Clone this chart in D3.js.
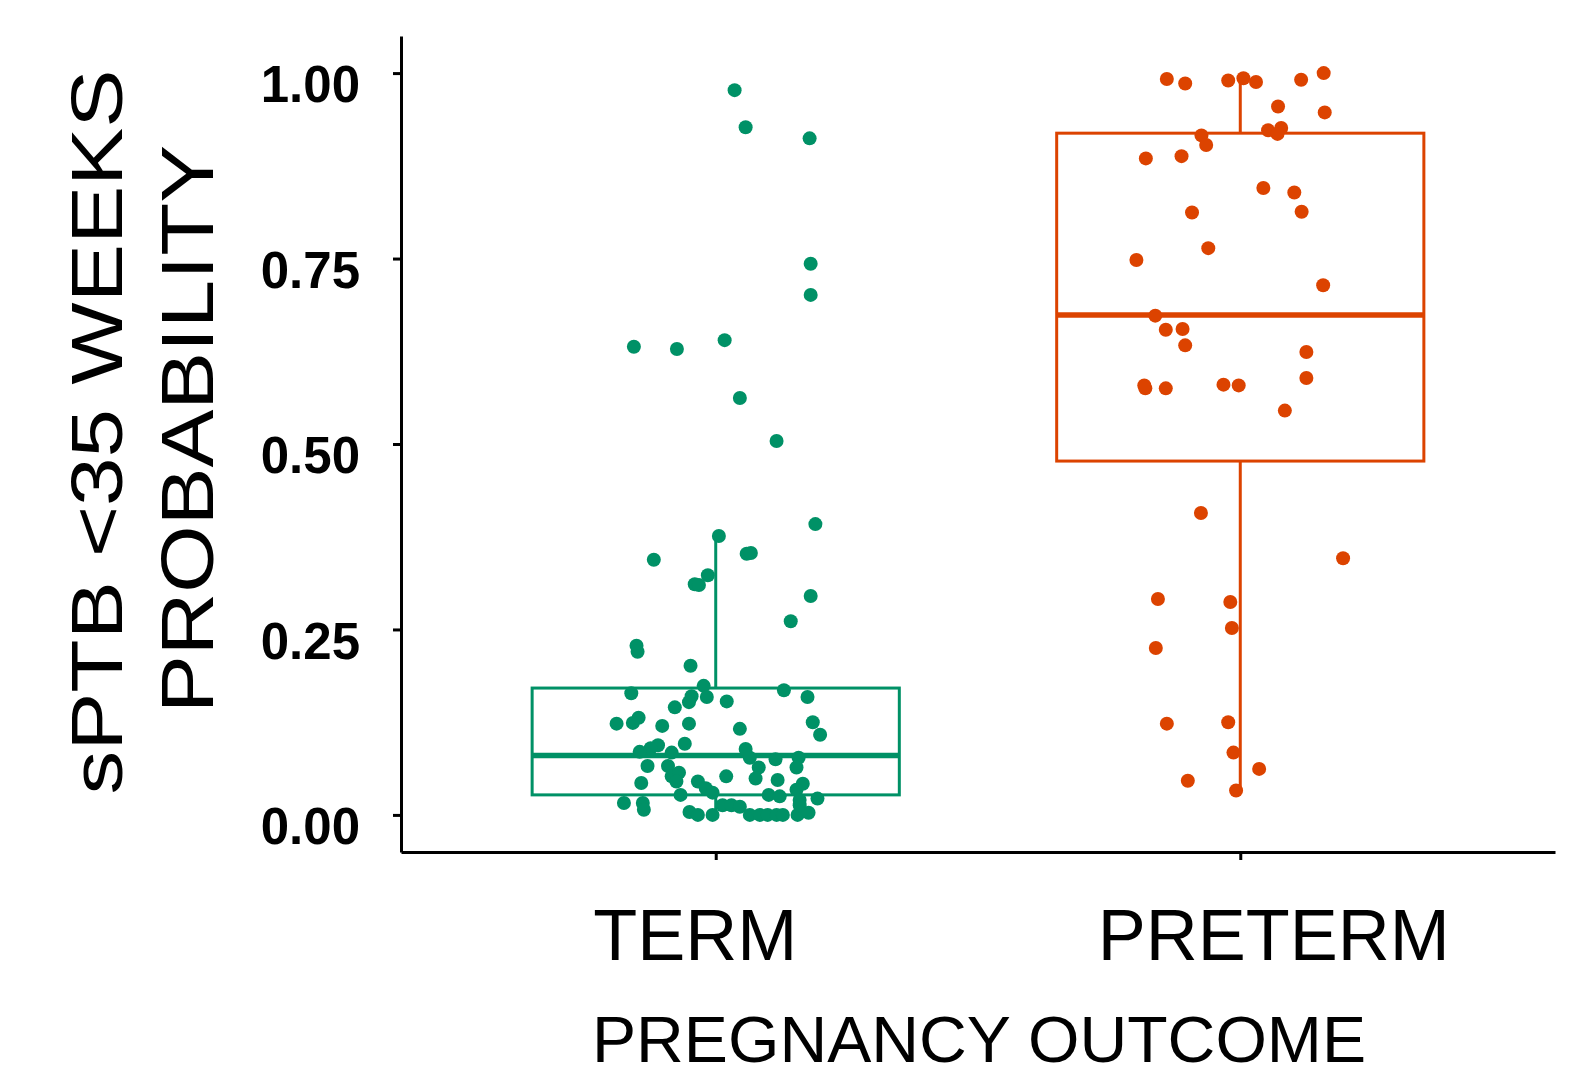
<!DOCTYPE html>
<html>
<head>
<meta charset="utf-8">
<script src="https://cdn.jsdelivr.net/npm/d3@7"></script>
<style>
    body { margin: 0; background: #fff; }
    text { font-family: "Liberation Sans", Arial, sans-serif; }
</style>
</head>
<body>
<svg id="chart"></svg>
<script>
// categories and tick values
var categories = ["TERM", "PRETERM"];
var yTicks = [0, 0.25, 0.5, 0.75, 1];
var colors = ["#009166", "#dc4300"];

// box stats (lower whisker, q1, median, q3, upper whisker)
var boxLow = [0.000, 0.032];
var boxQ1 = [0.027, 0.477];
var boxMedian = [0.080, 0.674];
var boxQ3 = [0.171, 0.919];
var boxHigh = [0.376, 0.993];

// jittered points: horizontal jitter (category units) and probability
var termJitter = [0.036, 0.057, 0.179, 0.181, 0.181, -0.156, -0.074, 0.017, 0.046, 0.116, 0.190, 0.006, 0.059, 0.067, -0.118, -0.040, -0.032, -0.015, 0.181, 0.143,
    -0.151, -0.149, -0.048, -0.023, -0.017, -0.046, -0.051, -0.161, -0.078, 0.021, 0.130, 0.175,
    -0.189, -0.158, -0.147, -0.102, -0.051, 0.046, 0.185, 0.199,
    -0.059, -0.110, -0.124, -0.145, -0.084, 0.057, 0.065, 0.114, 0.158,
    -0.130, -0.091, 0.082, 0.154,
    -0.084, -0.070, 0.020, 0.076, 0.118, -0.142, -0.075, -0.034, -0.019, -0.006, -0.067,
    0.166, 0.154, 0.101, 0.122, 0.194, 0.160,
    -0.175, -0.139, -0.137, -0.050, -0.034, -0.006, 0.013, 0.030, 0.046,
    0.065, 0.084, 0.099, 0.116, 0.128, 0.156, 0.177, 0.160];
var termProb = [0.977, 0.927, 0.912, 0.743, 0.701, 0.631, 0.628, 0.640, 0.562, 0.504, 0.392, 0.376, 0.352, 0.353, 0.344, 0.311, 0.310, 0.323, 0.295, 0.261,
    0.228, 0.220, 0.201, 0.174, 0.159, 0.160, 0.152, 0.164, 0.145, 0.153, 0.168, 0.159,
    0.123, 0.124, 0.131, 0.120, 0.123, 0.116, 0.125, 0.108,
    0.096, 0.094, 0.090, 0.085, 0.084, 0.089, 0.077, 0.075, 0.077,
    0.066, 0.066, 0.064, 0.064,
    0.052, 0.057, 0.052, 0.049, 0.047, 0.043, 0.045, 0.045, 0.036, 0.030, 0.027,
    0.042, 0.034, 0.027, 0.025, 0.022, 0.020,
    0.016, 0.016, 0.007, 0.004, 0.000, 0.000, 0.013, 0.013, 0.011,
    0.000, 0.000, 0.000, 0.000, 0.000, 0.000, 0.003, 0.013];

var pretermJitter = [-0.140, -0.105, -0.023, 0.006, 0.030, 0.116, 0.159, 0.072, 0.161,
    -0.074, -0.065, 0.053, 0.078, 0.071, -0.180, -0.112,
    0.044, 0.103, 0.117, -0.092, -0.061, -0.198, 0.158,
    -0.162, -0.142, -0.110, -0.105, 0.126, 0.126, -0.181, -0.183, -0.142, -0.032, -0.003, 0.085,
    -0.075, 0.196, -0.157, -0.019, -0.016, -0.161, -0.140, -0.023, -0.013, 0.036, -0.100, -0.008];
var pretermProb = [0.992, 0.986, 0.990, 0.993, 0.988, 0.991, 1.000, 0.955, 0.947,
    0.916, 0.903, 0.923, 0.926, 0.918, 0.885, 0.888,
    0.845, 0.839, 0.813, 0.812, 0.764, 0.748, 0.714,
    0.673, 0.654, 0.655, 0.633, 0.624, 0.589, 0.575, 0.579, 0.575, 0.580, 0.579, 0.545,
    0.407, 0.346, 0.291, 0.287, 0.252, 0.225, 0.123, 0.125, 0.084, 0.062, 0.046, 0.033];

var width = 1569;
var height = 1078;

var svg = d3.select("#chart")
    .attr("width", width)
    .attr("height", height);

var x = d3.scaleLinear().domain([0.4, 2.6]).range([401, 1555]);
var y = d3.scaleLinear().domain([-0.05, 1.05]).range([852, 36]);
var boxWidth = 0.7;

// axes
var yAxis = svg.append("g")
    .attr("transform", "translate(401,0)")
    .call(d3.axisLeft(y).tickValues(yTicks).tickFormat(d3.format(".2f"))
        .tickSize(8).tickSizeOuter(0).tickPadding(33));
yAxis.select(".domain").attr("stroke-width", 3);
yAxis.selectAll(".tick line").attr("stroke-width", 3);
yAxis.selectAll(".tick text")
    .attr("dy", "0.56em")
    .style("font-family", "'Liberation Sans', Arial, sans-serif")
    .style("font-size", "51px")
    .style("font-weight", "bold")
    .style("fill", "black");

var labelShift = [-21, 33];
var xAxis = svg.append("g")
    .attr("transform", "translate(0,852)")
    .call(d3.axisBottom(x).tickValues([1, 2]).tickFormat(function (d) { return categories[d - 1]; })
        .tickSize(8).tickSizeOuter(0));
xAxis.select(".domain").attr("stroke-width", 3);
xAxis.selectAll(".tick line").attr("stroke-width", 3);
xAxis.selectAll(".tick text")
    .attr("y", 108)
    .attr("dy", 0)
    .attr("dx", function (d) { return labelShift[d - 1]; })
    .style("font-family", "'Liberation Sans', Arial, sans-serif")
    .style("font-size", "72px")
    .style("fill", "black");

// axis titles
svg.append("text")
    .attr("transform", "translate(122,432) rotate(-90)")
    .attr("text-anchor", "middle")
    .attr("textLength", 725)
    .attr("lengthAdjust", "spacingAndGlyphs")
    .style("font-size", "72px")
    .text("sPTB <35 WEEKS");

svg.append("text")
    .attr("transform", "translate(213,429) rotate(-90)")
    .attr("text-anchor", "middle")
    .attr("textLength", 568)
    .attr("lengthAdjust", "spacingAndGlyphs")
    .style("font-size", "74px")
    .text("PROBABILITY");

svg.append("text")
    .attr("x", 979)
    .attr("y", 1062)
    .attr("text-anchor", "middle")
    .attr("textLength", 774)
    .attr("lengthAdjust", "spacingAndGlyphs")
    .style("font-size", "64px")
    .text("PREGNANCY OUTCOME");

// boxes
var boxes = categories.map(function (c, i) {
    return {pos: i + 1, low: boxLow[i], q1: boxQ1[i], med: boxMedian[i], q3: boxQ3[i], high: boxHigh[i], color: colors[i]};
});

var bg = svg.selectAll(".box")
    .data(boxes)
    .enter().append("g")
    .attr("class", "box");

bg.append("line")
    .attr("x1", function (d) { return x(d.pos); })
    .attr("x2", function (d) { return x(d.pos); })
    .attr("y1", function (d) { return y(d.q3); })
    .attr("y2", function (d) { return y(d.high); })
    .attr("stroke", function (d) { return d.color; })
    .attr("stroke-width", 3);

bg.append("line")
    .attr("x1", function (d) { return x(d.pos); })
    .attr("x2", function (d) { return x(d.pos); })
    .attr("y1", function (d) { return y(d.q1); })
    .attr("y2", function (d) { return y(d.low); })
    .attr("stroke", function (d) { return d.color; })
    .attr("stroke-width", 3);

bg.append("rect")
    .attr("x", function (d) { return x(d.pos - boxWidth / 2); })
    .attr("y", function (d) { return y(d.q3); })
    .attr("width", function (d) { return x(d.pos + boxWidth / 2) - x(d.pos - boxWidth / 2); })
    .attr("height", function (d) { return y(d.q1) - y(d.q3); })
    .attr("fill", "none")
    .attr("stroke", function (d) { return d.color; })
    .attr("stroke-width", 3);

bg.append("line")
    .attr("x1", function (d) { return x(d.pos - boxWidth / 2); })
    .attr("x2", function (d) { return x(d.pos + boxWidth / 2); })
    .attr("y1", function (d) { return y(d.med); })
    .attr("y2", function (d) { return y(d.med); })
    .attr("stroke", function (d) { return d.color; })
    .attr("stroke-width", 5.5);

// points
var points = [];
termProb.forEach(function (v, i) { points.push({pos: 1 + termJitter[i], value: v, color: colors[0]}); });
pretermProb.forEach(function (v, i) { points.push({pos: 2 + pretermJitter[i], value: v, color: colors[1]}); });

svg.selectAll(".pt")
    .data(points)
    .enter().append("circle")
    .attr("class", "pt")
    .attr("cx", function (d) { return x(d.pos); })
    .attr("cy", function (d) { return y(d.value); })
    .attr("r", 7)
    .attr("fill", function (d) { return d.color; });
</script>
</body>
</html>
